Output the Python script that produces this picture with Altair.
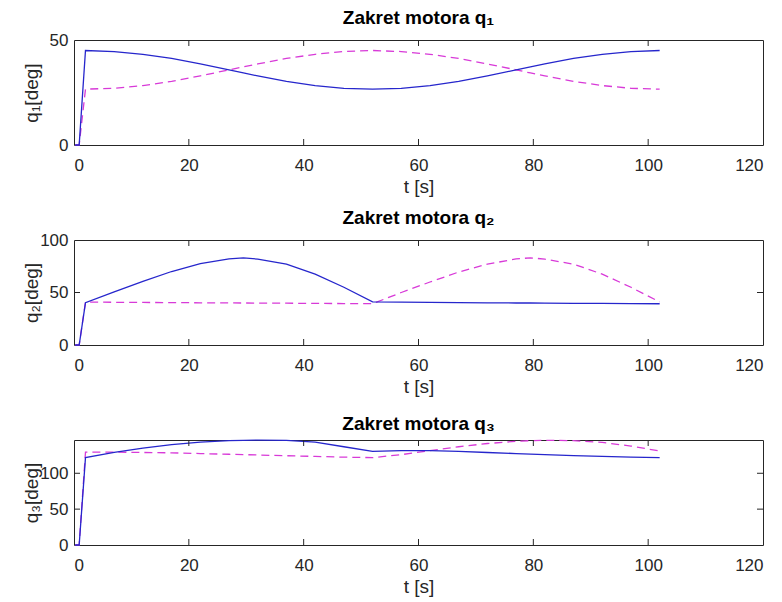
import altair as alt
import pandas as pd

# time grid (s)
T = [0.2, 0.9, 2, 7, 12, 17, 22, 27, 29.5, 32, 37, 42, 47, 52,
     57, 62, 67, 72, 77, 79.5, 82, 87, 92, 97, 102]

# q1 [deg]
q1_blue = [0, 0, 45.0, 44.5, 43.2, 41.2, 38.6, 35.8, 34.3, 32.9, 30.3, 28.3, 27.0, 26.6,
           27.0, 28.3, 30.3, 32.9, 35.8, 37.2, 38.6, 41.2, 43.2, 44.5, 45.0]
q1_mag = [0, 0, 26.6, 27.0, 28.3, 30.3, 32.9, 35.8, 37.2, 38.6, 41.2, 43.2, 44.5, 45.0,
          44.5, 43.2, 41.2, 38.6, 35.8, 34.3, 32.9, 30.3, 28.3, 27.0, 26.6]

# q2 [deg]
q2_blue = [0, 0, 40.3, 50.5, 60.5, 70.0, 77.5, 82.0, 83.0, 81.8, 77.0, 67.5, 55.0, 41.0,
           40.8, 40.6, 40.4, 40.2, 40.0, 40.0, 39.9, 39.7, 39.6, 39.4, 39.3]
q2_mag = [0, 0, 40.8, 40.7, 40.5, 40.4, 40.2, 40.1, 40.0, 39.9, 39.8, 39.6, 39.5, 39.3,
          50.0, 60.0, 69.5, 77.0, 82.0, 83.0, 81.8, 77.0, 67.5, 55.0, 41.0]

# q3 [deg]
q3_blue = [0, 0, 121.8, 129.0, 135.0, 140.0, 143.5, 145.5, 146.0, 146.3, 146.0, 143.5, 137.0, 130.5,
           131.5, 131.5, 130.5, 129.0, 127.5, 126.8, 126.0, 124.5, 123.5, 122.5, 121.8]
q3_mag = [0, 0, 129.5, 129.5, 129.0, 128.5, 127.5, 126.5, 126.0, 125.5, 124.5, 123.5, 122.5, 121.8,
          126.0, 131.5, 137.0, 141.5, 144.5, 145.5, 146.0, 145.5, 143.0, 138.0, 131.0]

x_ticks = [0, 20, 40, 60, 80, 100, 120]
inner_x_ticks = [20, 40, 60, 80, 100]

W, H = 689, 105
FONT = "Liberation Sans"
BLUE = "#2626cc"
MAG = "#d83ad8"


def panel(blue, mag, ymax, yticks, inner_yticks, title, ylab):
    d_blue = pd.DataFrame({"t": T, "v": blue})
    d_mag = pd.DataFrame({"t": T, "v": mag})
    xs = alt.Scale(domain=[0, 120], nice=False, zero=False)
    ys = alt.Scale(domain=[0, ymax], nice=False, zero=False)
    xaxis = alt.Axis(values=x_ticks, tickSize=0, domain=False, grid=False,
                     labelFontSize=17, labelFont=FONT, labelColor="#262626",
                     labelPadding=12, title="t [s]", titleFont=FONT,
                     titleFontSize=19, titleFontWeight="normal", titleColor="#262626",
                     titlePadding=4)
    yaxis = alt.Axis(values=yticks, tickSize=0, domain=False, grid=False,
                     labelFontSize=17, labelFont=FONT, labelColor="#262626",
                     labelPadding=6, title=ylab, titleFont=FONT,
                     titleFontSize=19, titleFontWeight="normal", titleColor="#262626",
                     titleX=-43, titleY=H / 2, titleAlign="center",
                     titleBaseline="middle", titleAngle=270)
    X = alt.X("t:Q", scale=xs, axis=xaxis)
    Y = alt.Y("v:Q", scale=ys, axis=yaxis)
    l_blue = alt.Chart(d_blue).mark_line(color=BLUE, strokeWidth=1.3).encode(x=X, y=Y)
    l_mag = alt.Chart(d_mag).mark_line(color=MAG, strokeWidth=1.3, strokeDash=[8, 5]).encode(x=X, y=Y)
    dx = pd.DataFrame({"t": inner_x_ticks})
    tick_b = alt.Chart(dx).mark_rule(color="#262626", strokeWidth=1).encode(
        x=X, y=alt.value(H), y2=alt.value(H - 6))
    tick_t = alt.Chart(dx).mark_rule(color="#262626", strokeWidth=1).encode(
        x=X, y=alt.value(0), y2=alt.value(6))
    layers = [l_mag, l_blue, tick_b, tick_t]
    if inner_yticks:
        dy = pd.DataFrame({"v": inner_yticks})
        tick_l = alt.Chart(dy).mark_rule(color="#262626", strokeWidth=1).encode(
            y=Y, x=alt.value(0), x2=alt.value(6))
        tick_r = alt.Chart(dy).mark_rule(color="#262626", strokeWidth=1).encode(
            y=Y, x=alt.value(W), x2=alt.value(W - 6))
        layers += [tick_l, tick_r]
    return alt.layer(*layers).properties(
        width=W, height=H,
        title=alt.TitleParams(text=title, font=FONT, fontSize=19, fontWeight="bold",
                              color="#000000", anchor="middle", offset=3),
    )


p1 = panel(q1_blue, q1_mag, 50, [0, 50], [], "Zakret motora q\u2081", "q\u2081[deg]")
p2 = panel(q2_blue, q2_mag, 100, [0, 50, 100], [50], "Zakret motora q\u2082", "q\u2082[deg]")
p3 = panel(q3_blue, q3_mag, 146.4, [0, 50, 100], [50, 100], "Zakret motora q\u2083", "q\u2083[deg]")

chart = alt.vconcat(p1, p2, p3, spacing=95, bounds="flush").properties(
    padding={"left": 13, "top": 0, "right": 0, "bottom": 0},
    background="white",
).configure_view(stroke="#262626", strokeWidth=1)

chart.save("out.html", embed_options={"renderer": "svg", "actions": False})
